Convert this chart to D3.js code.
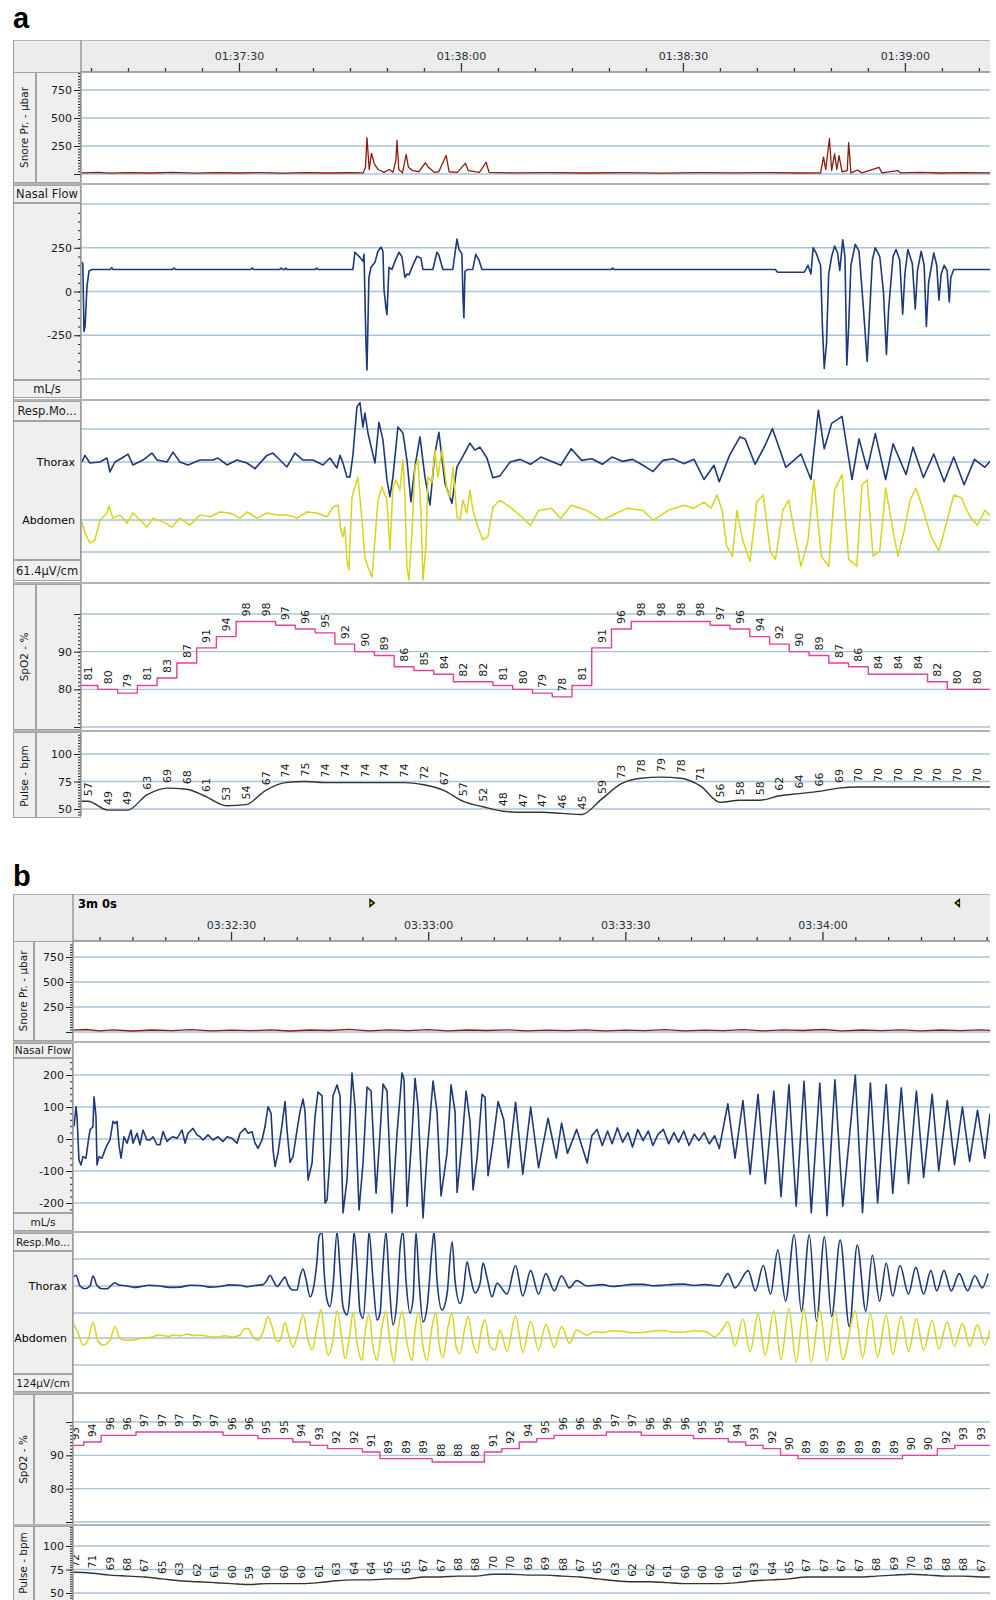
<!DOCTYPE html>
<html>
<head>
<meta charset="utf-8">
<script src="https://cdn.jsdelivr.net/npm/d3@7"></script>
<style>
  body { margin: 0; background: #fff; }
</style>
</head>
<body>
<div id="chart"></div>
<script>
const width = 996;
const height = 1600;

// ---------- panel a : times in seconds after 01:37:00 ----------
const aSnore = [[8.7,10],[11,14],[12.5,8],[15,12],[18,9],[21,15],[24,8],[27,12],[30,9],[33,13],[36,8],[39,12],[42,9],[45,11],[46.8,10],[47.1,60],[47.3,325],[47.6,40],[47.9,185],[48.3,90],[48.8,40],[49.6,15],[50.3,40],[50.8,15],[51.2,120],[51.35,300],[51.6,40],[52.1,10],[52.6,175],[52.9,60],[53.5,30],[54.3,20],[55.2,100],[55.6,60],[56.4,15],[57.0,20],[58.0,165],[58.4,20],[59.5,15],[60.6,95],[61.0,30],[62.5,15],[63.4,105],[63.8,15],[67,10],[72,13],[77,9],[82,12],[87,8],[92,12],[97,10],[102,13],[106,9],[108.6,10],[109.0,150],[109.3,40],[109.8,315],[110.1,30],[110.5,180],[110.8,40],[111.1,165],[111.5,20],[112.2,30],[112.4,280],[112.7,10],[113.6,35],[114.2,10],[116.5,60],[116.9,10],[119.05,30],[119.4,10],[122,14],[125,9],[128,13],[131.5,10]];

const aFlow = [[8.7,168],[8.9,160],[9.05,-228],[9.2,-200],[9.46,30],[9.73,117],[10.13,126],[12.6,126],[12.8,136],[13.0,126],[21.0,126],[21.2,134],[21.4,126],[31.6,126],[31.8,134],[32.0,126],[35.5,126],[35.7,134],[35.9,126],[36.2,126],[36.35,134],[36.5,126],[40.3,126],[40.5,134],[40.7,126],[45.4,126],[45.67,224],[46.35,195],[46.75,172],[46.9,212],[47.16,-293],[47.3,-449],[47.43,-190],[47.56,80],[47.84,138],[48.38,167],[48.78,230],[49.19,253],[49.46,230],[49.6,10],[49.86,-92],[50.0,-132],[50.27,138],[50.67,126],[51.08,172],[51.62,224],[52.02,200],[52.43,80],[52.7,100],[52.97,95],[53.38,138],[54.05,201],[54.59,190],[54.86,126],[56.2,126],[56.75,224],[57.0,210],[57.56,126],[58.9,126],[59.46,300],[59.73,241],[60.13,215],[60.27,-35],[60.4,-150],[60.54,115],[60.94,126],[61.6,126],[62.0,212],[62.43,180],[62.84,126],[80.3,126],[80.5,134],[80.7,126],[102.5,126],[102.8,110],[106.4,110],[106.9,150],[107.3,100],[107.6,250],[108.0,220],[108.6,150],[108.85,-200],[109.1,-440],[109.4,-300],[109.7,100],[110.1,200],[110.5,260],[110.9,220],[111.2,120],[111.6,295],[111.9,200],[112.15,-420],[112.4,-200],[112.7,150],[113.3,270],[113.8,230],[114.4,-100],[114.9,-400],[115.2,-150],[115.6,180],[116.0,250],[116.6,200],[117.1,0],[117.5,-360],[117.8,-100],[118.4,200],[118.8,240],[119.3,180],[119.7,-130],[120.0,100],[120.4,240],[121.0,160],[121.4,-100],[121.7,120],[122.2,230],[122.6,150],[122.9,-200],[123.2,50],[123.9,220],[124.3,150],[124.6,-50],[124.9,100],[125.3,150],[125.7,120],[126.0,-60],[126.2,80],[126.6,126],[131.5,126]];

const aThorax = [[8.78,0],[9.19,0.2],[9.86,-0.03],[11.21,0],[12.16,0.12],[12.56,-0.3],[13.24,0],[14.19,0.12],[15.0,0.24],[15.67,-0.09],[17.02,0.06],[18.24,0.27],[18.92,0.06],[20.27,0],[21.08,0.3],[22.02,0],[23.11,-0.09],[24.73,0.06],[26.48,0.06],[27.16,0.12],[28.38,-0.09],[29.73,0.06],[31.08,-0.03],[32.16,-0.2],[33.78,0.2],[34.59,0.27],[35.54,0.06],[36.48,-0.15],[37.56,0.27],[38.65,0.06],[40.0,0.06],[41.35,-0.09],[42.29,0.12],[43.24,-0.18],[43.65,0.2],[44.05,-0.03],[44.59,-0.45],[45.0,-0.45],[45.4,0.2],[45.94,1.67],[46.35,1.8],[46.75,1.06],[47.02,1.48],[47.43,0.88],[47.97,0.36],[48.38,-0.03],[48.92,1.2],[49.46,0.67],[50.0,-0.55],[50.4,-1.05],[50.81,-0.45],[51.48,1.06],[52.16,0.88],[52.7,0.06],[53.24,-1.2],[53.78,-0.15],[54.46,0.76],[55.13,-0.45],[55.81,-1.3],[56.48,0.27],[57.02,0.9],[57.84,-0.64],[58.78,-1.25],[59.46,-0.15],[60.13,0.12],[61.21,0.57],[61.89,0.36],[62.56,0.45],[63.51,0.12],[64.32,-0.48],[65.27,-0.42],[66.65,0],[68.0,0.08],[69.4,-0.07],[70.8,0.15],[72.2,0.02],[73.5,-0.1],[74.9,0.4],[76.3,0.05],[77.7,0.1],[79.1,-0.07],[80.4,0.15],[81.8,0.02],[83.2,0.08],[84.6,-0.1],[85.96,-0.29],[87.3,0.05],[88.7,0.1],[90.1,-0.05],[91.5,0.08],[92.85,-0.53],[94.2,-0.1],[94.9,-0.6],[96.3,0.2],[97.7,0.76],[98.4,0.7],[99.75,-0.07],[101.1,0.5],[102.1,1.01],[103.2,0.3],[103.9,-0.16],[105.95,0.24],[107.3,-0.53],[108.3,1.57],[109.1,0.4],[110.1,1.17],[111.5,1.38],[112.85,-0.53],[113.8,0.7],[114.9,-0.22],[116.0,0.86],[117.4,-0.53],[118.4,0.55],[120.15,-0.38],[121.1,0.45],[122.5,-0.47],[123.9,0.24],[125.3,-0.6],[126.6,0.15],[128.0,-0.69],[129.4,0.08],[130.8,-0.16],[131.5,0.02]];

const aAbdomen = [[8.78,-0.06],[9.19,-0.4],[9.86,-0.72],[10.54,-0.62],[11.21,0],[12.16,0.22],[12.43,0.44],[12.97,0.06],[13.92,0.16],[14.86,-0.1],[15.67,0.22],[16.62,0],[17.57,-0.22],[18.38,0.06],[19.73,-0.06],[20.94,-0.22],[22.02,0.06],[23.38,-0.16],[24.73,0.16],[26.08,0.1],[27.43,0.25],[28.78,0.22],[30.13,0.06],[31.08,0.25],[32.43,0.06],[33.78,0.22],[35.13,0.16],[36.48,0.16],[37.84,0.06],[39.19,0.25],[40.54,0.22],[41.89,0.1],[42.7,0.4],[43.38,0.47],[43.78,-0.31],[44.05,-0.53],[44.32,-0.22],[44.59,-1.25],[44.86,-1.56],[45.27,0.72],[45.67,1.03],[46.08,1.34],[46.62,0],[47.02,-1.16],[47.43,-1.47],[47.97,-1.78],[48.38,-0.62],[48.78,0.62],[49.32,1.03],[50.0,0.62],[50.4,-0.94],[50.81,1.03],[51.21,1.25],[51.75,0.94],[52.16,1.88],[52.43,0.72],[52.7,-1.47],[52.97,-1.88],[53.38,-0.4],[53.78,1.66],[54.19,1.88],[54.59,0.31],[54.86,-1.88],[55.27,-0.84],[55.54,1.34],[56.08,1.16],[56.48,2.19],[56.89,1.34],[57.43,2.19],[58.11,0.94],[58.51,0.72],[58.92,1.66],[59.46,0.1],[59.86,0],[60.27,0.62],[60.81,0.22],[61.21,0.94],[61.62,0.31],[62.29,-0.22],[62.97,-0.62],[63.64,-0.53],[64.32,0.4],[65.27,0.62],[66.65,0.4],[68.0,0.14],[69.4,-0.17],[70.5,0.3],[72.2,0.37],[73.5,0.05],[74.9,0.46],[77.0,0.3],[79.1,-0.01],[80.4,0.14],[82.5,0.37],[84.6,0.3],[85.96,-0.01],[88.0,0.3],[90.1,0.46],[91.5,0.37],[92.85,0.56],[93.8,0.37],[94.6,0.78],[95.3,0.3],[95.9,-0.81],[96.7,-1.13],[97.3,0.3],[98.1,-0.65],[99.06,-1.29],[100.0,0.56],[100.85,0.78],[101.8,-0.97],[102.5,-1.23],[103.5,0.3],[104.3,0.62],[105.3,-0.65],[105.95,-1.45],[106.9,-0.65],[107.7,1.26],[108.7,-1.13],[109.7,-1.45],[110.5,0.94],[111.5,1.42],[112.4,-1.23],[113.5,-1.45],[114.2,1.1],[114.9,1.26],[115.7,-1.13],[116.6,-0.97],[117.4,1.0],[118.4,-0.33],[119.05,-1.13],[119.9,-0.33],[120.7,0.62],[121.5,1.0],[122.5,0.3],[123.5,-0.49],[124.6,-0.97],[125.7,-0.01],[126.6,0.78],[127.6,0.7],[128.7,0.14],[129.8,-0.17],[130.8,0.3],[131.5,0.14]];

// oximeter readings, one every sample interval
const aSpo2 = [81,80,79,81,83,87,91,94,98,98,97,96,95,92,90,89,86,85,84,82,82,81,80,79,78,81,91,96,98,98,98,98,97,96,94,92,90,89,87,86,84,84,84,82,80,80];
const aPulse = [57,49,49,63,69,68,61,53,54,67,74,75,74,74,74,74,74,72,67,57,52,48,47,47,46,45,59,73,78,79,78,71,56,58,58,62,64,66,69,70,70,70,70,70,70,70];
const aSampleStart = 9.59;
const aSampleStep = 2.67;
const aTimeTicks = [30, 60, 90, 120];

// ---------- panel b : times in seconds after 03:32:00 ----------
const bSnore = [[5.95,18],[8,25],[10,12],[12,22],[15,10],[18,20],[21,14],[24,24],[27,11],[30,18],[33,13],[36,22],[39,10],[42,20],[45,15],[48,26],[51,12],[54,22],[57,14],[60,24],[63,12],[66,20],[69,15],[72,22],[75,11],[78,18],[81,14],[84,21],[87,12],[90,18],[93,13],[96,23],[99,12],[102,19],[105,14],[108,24],[111,12],[114,22],[117,15],[120,25],[123,12],[126,20],[129,14],[132,22],[135,11],[138,20],[141,14],[144,22],[145.5,16]];

const bFlow = [[6.1,39],[6.41,101],[6.56,70],[6.86,-66],[7.17,-81],[7.47,-55],[7.93,-60],[8.23,-13],[8.54,28],[8.99,39],[9.15,132],[9.45,70],[9.6,-81],[9.91,-55],[10.36,-60],[10.82,-34],[11.13,-19],[11.58,-3],[12.04,55],[12.34,49],[12.65,55],[12.95,-19],[13.26,-60],[13.71,7],[14.17,-13],[14.78,28],[15.08,-13],[15.69,18],[16.15,-18],[16.6,28],[17.21,-3],[17.67,-3],[18.13,7],[18.74,-18],[19.19,-18],[19.65,23],[20.26,-8],[20.71,2],[21.17,7],[21.78,2],[22.54,28],[23.0,-13],[23.45,18],[24.21,33],[24.82,13],[25.28,7],[25.74,-3],[26.5,13],[27.26,-3],[28.02,7],[28.78,-8],[29.39,7],[30.15,2],[30.91,-13],[31.37,18],[32.13,33],[32.59,18],[33.19,23],[33.65,-13],[34.11,-29],[34.72,-3],[35.17,39],[35.63,101],[36.09,80],[36.39,-34],[36.7,-86],[37.15,-44],[37.76,44],[38.22,117],[38.52,28],[38.98,-73],[39.43,-55],[40.04,28],[40.5,85],[40.96,125],[41.26,85],[41.72,-128],[42.33,-75],[42.78,70],[43.24,147],[43.85,135],[44.31,-200],[44.61,-190],[45.07,-55],[45.52,135],[46.13,169],[46.59,135],[47.04,-231],[47.65,-128],[48.41,206],[48.87,101],[49.48,-222],[50.09,-75],[50.7,162],[51.31,150],[52.07,-169],[52.68,18],[53.13,172],[53.74,150],[54.5,-231],[55.26,18],[56.02,206],[56.33,185],[56.79,-210],[57.55,18],[58.0,190],[58.46,101],[59.22,-247],[59.83,-44],[60.74,181],[61.35,85],[61.96,-178],[62.87,-44],[63.48,169],[64.09,85],[64.4,-167],[65.16,-8],[65.77,150],[66.37,55],[66.83,-159],[67.44,-60],[68.2,140],[68.66,130],[69.11,-115],[69.87,-8],[70.64,117],[71.5,60],[72.2,-90],[73.3,115],[74.4,-110],[75.6,100],[76.8,-90],[78.25,65],[79.5,-60],[80.3,50],[81.2,-45],[82.6,30],[84.2,-75],[84.9,10],[85.7,30],[86.5,-20],[87.3,25],[88.0,-15],[88.8,35],[89.6,-10],[90.4,20],[91.1,-25],[91.9,30],[92.7,-5],[93.5,25],[94.2,-20],[95.0,15],[95.8,30],[96.6,-15],[97.4,20],[98.1,-10],[98.9,25],[99.7,-20],[100.5,15],[101.2,-5],[102.0,20],[102.8,-15],[103.6,10],[104.3,-30],[105.6,110],[106.7,-60],[107.9,120],[109.0,-110],[110.2,140],[111.3,-140],[112.6,150],[113.7,-180],[114.9,170],[116.0,-210],[117.2,180],[118.3,-230],[119.6,175],[120.7,-240],[121.9,185],[123.1,-210],[125.0,200],[126.1,-230],[127.3,175],[128.4,-200],[129.7,170],[130.7,-170],[132.0,160],[133.1,-140],[134.3,150],[135.4,-120],[136.7,140],[137.7,-100],[139.0,120],[140.1,-80],[141.3,100],[142.4,-70],[143.6,90],[144.7,-60],[145.5,80]];

const bThorax = [[6.1,0.34],[6.41,0.4],[7.02,0],[7.78,-0.1],[8.54,0],[8.99,0.37],[9.6,0.02],[10.36,-0.1],[11.13,-0.1],[11.89,0.05],[12.34,0.12],[12.8,0.05],[14.17,0],[15.2,-0.05],[16.15,-0.03],[17.5,0.03],[19.19,0],[20.6,-0.05],[22.24,-0.04],[23.8,0.03],[25.28,0.02],[26.8,-0.04],[28.32,-0.02],[29.8,0.04],[31.37,0.03],[32.5,-0.03],[33.65,0.02],[34.87,0.05],[35.48,0.22],[35.93,0.4],[36.39,0.22],[37.0,-0.02],[37.76,0.2],[38.22,0.33],[38.67,0.05],[39.43,-0.15],[40.04,-0.15],[40.5,0.35],[40.96,0.63],[41.41,0.25],[42.02,-0.4],[42.48,-0.15],[43.09,0.96],[43.39,1.83],[43.85,2.0],[44.15,0.6],[44.61,-0.52],[45.07,-0.77],[45.52,0],[46.13,2.0],[46.59,0.6],[47.04,-0.77],[47.65,-1.07],[48.41,0.8],[48.72,2.0],[49.18,0.8],[49.63,-0.95],[50.09,-1.19],[50.7,0.8],[51.0,2.0],[51.61,0.2],[52.22,-1.26],[52.68,-1.0],[53.13,0.8],[53.59,2.0],[54.05,0.2],[54.66,-1.44],[55.26,-0.5],[55.72,1.4],[56.18,2.0],[56.63,0.2],[57.24,-1.0],[57.7,-0.5],[58.15,2.0],[58.61,0.2],[59.22,-1.33],[59.83,-0.8],[60.59,1.4],[60.9,2.0],[61.35,0.2],[62.11,-0.89],[62.87,-0.3],[63.64,1.64],[64.09,0.2],[64.85,-0.65],[65.31,-0.3],[65.92,0.9],[66.37,0.4],[67.13,-0.26],[67.9,0.1],[68.35,0.85],[68.96,0.3],[69.72,-0.4],[70.48,0.1],[72.0,-0.3],[73.3,0.76],[74.4,-0.37],[75.6,0.57],[76.8,-0.3],[77.9,0.46],[79.2,-0.18],[80.3,0.38],[81.5,-0.07],[82.6,0.2],[84.2,0],[86.5,0.05],[88.0,-0.02],[89.6,0.02],[91.1,0.06],[92.7,0.06],[94.2,0.01],[95.8,0.03],[97.4,0.06],[98.9,0.07],[100.5,0.02],[102.0,0.05],[104.3,0],[105.6,0.46],[106.7,-0.07],[108.7,0.57],[109.8,-0.18],[111.0,0.76],[112.1,-0.3],[113.2,1.33],[114.4,-0.56],[115.7,1.9],[116.8,-0.94],[118.0,1.9],[119.1,-1.31],[120.3,1.82],[121.4,-1.13],[122.7,1.71],[124.1,-1.51],[125.3,1.52],[126.6,-0.94],[127.6,1.14],[128.7,-0.56],[129.7,0.84],[130.7,-0.37],[131.8,0.76],[133.1,-0.3],[134.2,0.69],[135.4,-0.3],[136.5,0.57],[137.4,-0.18],[138.5,0.57],[139.6,-0.18],[140.8,0.46],[142.1,-0.18],[143.2,0.38],[144.3,-0.07],[145.2,0.46]];

const bAbdomen = [[6.1,0.49],[6.71,0.19],[7.47,-0.26],[8.23,-0.08],[8.99,0.57],[9.76,-0.13],[10.52,-0.26],[11.58,-0.08],[12.34,0.43],[13.1,-0.02],[13.86,-0.08],[15.08,-0.08],[16.15,-0.02],[17.67,0.02],[19.19,0.11],[20.5,0.06],[21.17,0.11],[22.3,0.08],[23.3,0.15],[24.3,0.09],[25.28,0.11],[26.5,0.06],[27.87,0.04],[29.0,0.08],[30.3,0.04],[31.37,0.11],[31.82,0.3],[32.59,0.36],[33.35,0.04],[34.11,-0.08],[34.87,0.23],[35.63,0.8],[36.24,0.42],[37.0,-0.13],[37.46,-0.08],[38.22,0.57],[38.67,0.19],[39.43,-0.33],[40.2,0.19],[40.96,0.87],[41.72,-0.08],[42.33,-0.45],[43.09,0.42],[43.7,1.06],[44.31,-0.08],[44.76,-0.64],[45.52,-0.08],[46.13,1.0],[46.89,-0.08],[47.35,-0.77],[48.11,0.19],[48.57,0.94],[49.18,-0.2],[49.94,-0.83],[50.39,0.19],[51.0,0.87],[51.61,-0.33],[52.22,-0.83],[52.98,0.42],[53.59,0.99],[54.2,-0.2],[54.81,-0.89],[55.42,0.3],[56.02,0.99],[56.79,-0.2],[57.55,-0.83],[58.0,0.3],[58.61,0.94],[59.22,-0.33],[59.83,-0.83],[60.59,0.42],[61.2,0.94],[61.65,-0.2],[62.27,-0.71],[63.03,0.42],[63.64,0.94],[64.25,-0.33],[64.85,-0.58],[65.61,0.42],[66.07,0.8],[66.83,-0.2],[67.44,-0.55],[68.2,0.42],[68.66,0.68],[69.42,-0.33],[70.18,-0.45],[70.94,0.3],[72.0,-0.5],[73.3,0.82],[74.4,-0.53],[75.6,0.62],[76.8,-0.45],[77.9,0.5],[79.2,-0.34],[80.3,0.43],[81.5,-0.2],[82.6,0.3],[84.2,0.1],[85.3,0.24],[86.5,0.2],[88.0,0.27],[89.6,0.25],[91.1,0.19],[92.7,0.2],[94.2,0.26],[95.8,0.28],[97.4,0.21],[98.9,0.22],[100.5,0.27],[102.0,0.25],[103.6,0.05],[104.7,0.3],[105.6,0.6],[106.7,-0.3],[107.9,0.7],[109.0,-0.5],[110.2,0.9],[111.3,-0.65],[112.6,1.0],[113.7,-0.8],[114.9,1.1],[116.0,-0.9],[117.2,1.1],[118.3,-0.9],[119.6,1.05],[120.7,-0.85],[121.9,1.0],[123.1,-0.8],[125.0,1.0],[126.1,-0.75],[127.3,0.9],[128.4,-0.7],[129.7,0.85],[130.7,-0.6],[132.0,0.8],[133.1,-0.5],[134.3,0.7],[135.4,-0.45],[136.7,0.65],[137.7,-0.4],[139.0,0.6],[140.1,-0.3],[141.3,0.55],[142.4,-0.3],[143.6,0.5],[144.7,-0.25],[145.5,0.3]];

const bSpo2 = [93,94,96,96,97,97,97,97,97,96,96,95,95,94,93,92,92,91,89,89,89,88,88,88,91,92,94,95,96,96,96,97,97,96,96,96,95,95,94,93,92,90,89,89,89,89,89,89,90,90,92,93,93];
const bPulse = [72,71,69,68,67,65,63,62,61,60,59,60,60,60,61,63,64,64,65,65,67,67,68,68,70,70,69,69,68,67,65,63,62,62,61,60,60,60,61,63,64,65,67,67,67,67,68,69,70,69,68,68,67];
const bSampleStart = 6.26;
const bSampleStep = 2.651;
const bTimeTicks = [30, 60, 90, 120];
const bMarkers = [51.5, 140.5];

// ---------- styling ----------
const FONT = "'DejaVu Sans', Verdana, sans-serif";
const RIGHT = 990;
const gridColor = "#a9c3d8";
const boxFill = "#efefef";
const boxStroke = "#a3a3a3";
const headFill = "#ececec";
const sepColor = "#b3b3b3";
const snoreColor = "#8c1c0e";
const flowColor = "#1d3979";
const abdColor = "#d6d41c";
const spo2Color = "#e0409e";
const pulseColor = "#333";

const svg = d3.select("#chart").append("svg")
    .attr("width", width)
    .attr("height", height)
    .style("font-family", FONT);

function clock(base) {
    return t => {
        const s = Math.round(base + t);
        const p = n => String(n).padStart(2, "0");
        return `${p(Math.floor(s / 3600))}:${p(Math.floor(s / 60) % 60)}:${p(s % 60)}`;
    };
}

let clipCount = 0;
function section(L, y0, y1) {
    const id = "clip" + (clipCount++);
    svg.append("clipPath").attr("id", id).append("rect")
        .attr("x", L.left).attr("y", y0).attr("width", RIGHT - L.left).attr("height", y1 - y0);
    return svg.append("g").attr("clip-path", `url(#${id})`);
}

function box(x0, y0, x1, y1, label, size) {
    svg.append("rect")
        .attr("x", x0 + 0.5).attr("y", y0 + 0.5)
        .attr("width", x1 - x0 - 1).attr("height", y1 - y0 - 1)
        .attr("fill", boxFill).attr("stroke", boxStroke);
    if (label) {
        svg.append("text")
            .attr("x", (x0 + x1) / 2).attr("y", (y0 + y1) / 2)
            .attr("dy", "0.36em").attr("text-anchor", "middle")
            .style("font-size", size || "11px").attr("fill", "#1a1a1a")
            .text(label);
    }
}

function vLabel(cx, cy, label) {
    svg.append("text")
        .attr("transform", `translate(${cx},${cy}) rotate(-90)`)
        .attr("dy", "0.36em").attr("text-anchor", "middle")
        .style("font-size", "10.5px").attr("fill", "#1a1a1a")
        .text(label);
}

function grid(g, L, ys) {
    g.selectAll(null).data(ys).join("line")
        .attr("x1", L.left).attr("x2", RIGHT)
        .attr("y1", d => d).attr("y2", d => d)
        .attr("stroke", gridColor).attr("stroke-width", 1.3);
}

function yAxis(L, scale, major, minor, fmt, y0, y1) {
    const inside = v => scale(v) > y0 + 1 && scale(v) < y1 - 1;
    const ax = svg.append("g").attr("transform", `translate(${L.left},0)`);
    ax.append("g").call(d3.axisLeft(scale).tickValues(minor.filter(inside)).tickSize(3).tickFormat(""));
    ax.append("g").call(d3.axisLeft(scale).tickValues(major.filter(inside)).tickSize(7).tickPadding(2).tickFormat(fmt));
    ax.selectAll(".domain").remove();
    ax.selectAll("line").attr("stroke", "#222");
    ax.selectAll("text").style("font-size", "11px").style("font-family", FONT).attr("fill", "#1a1a1a");
}

function trace(g, data, x, y, color, w, curve) {
    g.append("path").datum(data)
        .attr("fill", "none").attr("stroke", color).attr("stroke-width", w)
        .attr("stroke-linejoin", "round")
        .attr("d", d3.line().x(d => x(d[0])).y(d => y(d[1])).curve(curve || d3.curveLinear));
}

function readings(g, vals, t0, dt, x, y, color, curve, fontSize) {
    const pts = vals.map((v, i) => [t0 + i * dt, v]);
    const dom = x.domain();
    trace(g, [[dom[0], vals[0]], ...pts, [dom[1], vals[vals.length - 1]]], x, y, color, 1.4, curve);
    g.selectAll(null).data(pts).join("text")
        .attr("transform", d => `translate(${x(d[0])},${y(d[1]) - 5}) rotate(-90)`)
        .attr("dy", "0.36em")
        .style("font-size", fontSize).attr("fill", "#1a1a1a")
        .text(d => d[1]);
}

function drawPanel(L, D) {
    const x = d3.scaleLinear().domain(L.domain).range([L.left, RIGHT]);

    svg.append("text").attr("x", 13).attr("y", L.letterY).text(L.letter)
        .style("font-family", "'Liberation Sans', Arial, sans-serif")
        .style("font-size", "29px").style("font-weight", "bold");

    // header with time scale
    svg.append("rect").attr("x", 13).attr("y", L.top)
        .attr("width", RIGHT - 13).attr("height", L.head - L.top).attr("fill", headFill);
    const minors = d3.range(10, L.domain[1], 5).filter(t => t % 30 !== 0);
    const tAxis = svg.append("g").attr("transform", `translate(0,${L.head})`);
    tAxis.append("g").call(d3.axisTop(x).tickValues(minors).tickSize(4).tickFormat(""));
    tAxis.append("g").call(d3.axisTop(x).tickValues(D.timeTicks).tickSize(9)
        .tickPadding(L.labelPad).tickFormat(clock(L.base)));
    tAxis.selectAll(".domain").remove();
    tAxis.selectAll("line").attr("stroke", "#333").attr("stroke-width", 1.3);
    tAxis.selectAll("text").style("font-size", "11px").style("font-family", FONT).attr("fill", "#26313d");

    if (L.window) {
        svg.append("text").attr("x", L.left + 5).attr("y", L.top + 14)
            .style("font-size", "11.5px").style("font-weight", "bold").text(L.window);
        svg.selectAll(null).data(D.markers).join("path")
            .attr("transform", d => `translate(${x(d)},${L.top + 9})`)
            .attr("d", (d, i) => i === 0 ? "M-3,-5L3,0L-3,5Z" : "M3,-5L-3,0L3,5Z")
            .attr("fill", "#111");
        svg.selectAll(null).data(D.markers).join("circle")
            .attr("cx", (d, i) => x(d) + (i === 0 ? -1 : 1)).attr("cy", L.top + 9)
            .attr("r", 1.2).attr("fill", "#e8e000");
    }

    // ---- snore ----
    const sn = L.snore;
    const ySn = d3.scaleLinear().domain([0, 750]).range(sn.range);
    box(13, sn.y0, L.split, sn.y1);
    box(L.split, sn.y0, L.left, sn.y1);
    vLabel((13 + L.split) / 2, (sn.y0 + sn.y1) / 2, "Snore Pr. - µbar");
    const gSn = section(L, sn.y0, sn.y1);
    grid(gSn, L, [0, 250, 500, 750].map(ySn));
    yAxis(L, ySn, [0, 250, 500, 750], d3.range(0, 901, 25), d => d === 0 ? "" : d, sn.y0, sn.y1);
    trace(gSn, D.snore, x, ySn, snoreColor, 1.3);

    // ---- nasal flow ----
    const fl = L.flow;
    const yFl = d3.scaleLinear().domain(fl.domain).range(fl.range);
    box(13, fl.y0, L.left, fl.label, "Nasal Flow", L.boxFont);
    box(13, fl.label, L.left, fl.unit);
    box(13, fl.unit, L.left, fl.y1 - 1, "mL/s", L.boxFont);
    const gFl = section(L, fl.y0, fl.y1);
    grid(gFl, L, fl.grid.map(yFl));
    yAxis(L, yFl, fl.major, fl.minor, d => d, fl.label, fl.unit);
    trace(gFl, D.flow, x, yFl, flowColor, 1.6);

    // ---- respiratory effort ----
    const rs = L.resp;
    const yTh = d3.scaleLinear().domain([-1, 1]).range(rs.thorax);
    const yAb = d3.scaleLinear().domain([-1, 1]).range(rs.abdomen);
    box(13, rs.y0, L.left, rs.label, "Resp.Mo...", L.boxFont);
    box(13, rs.label, L.left, rs.unit);
    box(13, rs.unit, L.left, rs.y1 - 1, rs.unitText, L.boxFont);
    svg.append("text").attr("x", L.left - 6).attr("y", yTh(0)).attr("dy", "0.36em")
        .attr("text-anchor", "end").style("font-size", "11px").text("Thorax");
    svg.append("text").attr("x", L.left - 6).attr("y", yAb(0)).attr("dy", "0.36em")
        .attr("text-anchor", "end").style("font-size", "11px").text("Abdomen");
    const gRs = section(L, rs.y0, rs.y1);
    grid(gRs, L, [...rs.thGrid.map(yTh), ...rs.abGrid.map(yAb)]);
    trace(gRs, D.thorax, x, yTh, flowColor, 1.6, rs.curve);
    trace(gRs, D.abdomen, x, yAb, abdColor, 1.5, rs.curve);

    // ---- SpO2 ----
    const sp = L.spo2;
    const ySp = d3.scaleLinear().domain([70, 100]).range(sp.range);
    box(13, sp.y0, L.split, sp.y1);
    box(L.split, sp.y0, L.left, sp.y1);
    vLabel((13 + L.split) / 2, (sp.y0 + sp.y1) / 2, "SpO2 - %");
    const gSp = section(L, sp.y0, sp.y1);
    grid(gSp, L, [70, 80, 90, 100].map(ySp));
    yAxis(L, ySp, [70, 80, 90, 100], d3.range(70, 101, 1), d => (d === 80 || d === 90) ? d : "", sp.y0, sp.y1 + 2);
    readings(gSp, D.spo2, D.start, D.step, x, ySp, spo2Color, d3.curveStep, L.valueFont);

    // ---- pulse ----
    const pu = L.pulse;
    const yPu = d3.scaleLinear().domain([50, 100]).range(pu.range);
    box(13, pu.y0, L.split, pu.y1 + 2);
    box(L.split, pu.y0, L.left, pu.y1 + 2);
    vLabel((13 + L.split) / 2, pu.labelY, "Pulse - bpm");
    const gPu = section(L, pu.y0, pu.y1);
    grid(gPu, L, [50, 75, 100].map(yPu));
    yAxis(L, yPu, [50, 75, 100], d3.range(30, 126, 2.5), d => d, pu.y0, pu.y1);
    readings(gPu, D.pulse, D.start, D.step, x, yPu, pulseColor, d3.curveMonotoneX, L.valueFont);

    // frame and section separators
    svg.append("line").attr("x1", 13).attr("x2", RIGHT).attr("y1", L.top + 0.5).attr("y2", L.top + 0.5)
        .attr("stroke", "#b8b8b8");
    svg.append("line").attr("x1", L.left).attr("x2", RIGHT).attr("y1", L.head).attr("y2", L.head)
        .attr("stroke", "#8a8a8a").attr("stroke-width", 1.3);
    svg.append("line").attr("x1", 13.5).attr("x2", 13.5).attr("y1", L.top).attr("y2", L.bottom)
        .attr("stroke", "#9a9a9a");
    svg.append("line").attr("x1", L.left).attr("x2", L.left).attr("y1", L.top).attr("y2", L.bottom)
        .attr("stroke", "#9a9a9a").attr("stroke-width", 1.5);
    svg.selectAll(null).data(L.seps).join("line")
        .attr("x1", 13).attr("x2", RIGHT).attr("y1", d => d).attr("y2", d => d)
        .attr("stroke", sepColor).attr("stroke-width", 2.2);
}

drawPanel({
    letter: "a", letterY: 28, top: 40, head: 72, bottom: 816, left: 81, split: 36,
    domain: [8.65, 131.5], base: 5820, labelPad: 3, valueFont: "11px", boxFont: "11.5px",
    snore: { y0: 72, y1: 183, range: [174, 90] },
    flow: { y0: 185, y1: 399, label: 203, unit: 380, domain: [-500, 500], range: [379, 204],
            grid: [-500, -250, 0, 250, 500], major: [-250, 0, 250], minor: d3.range(-450, 451, 50) },
    resp: { y0: 401, y1: 582, label: 421, unit: 560, thorax: [495, 429], abdomen: [552, 488],
            thGrid: [1, 0], abGrid: [0, -1], unitText: "61.4µV/cm", curve: d3.curveLinear },
    spo2: { y0: 584, y1: 730, range: [727, 614] },
    pulse: { y0: 732, y1: 816, range: [809, 754], labelY: 776 },
    seps: [184, 400, 583, 731]
}, {
    snore: aSnore, flow: aFlow, thorax: aThorax, abdomen: aAbdomen,
    spo2: aSpo2, pulse: aPulse, start: aSampleStart, step: aSampleStep, timeTicks: aTimeTicks
});

drawPanel({
    letter: "b", letterY: 886, top: 894, head: 941, bottom: 1600, left: 73, split: 34,
    domain: [5.95, 145.5], base: 12720, labelPad: 3, valueFont: "10.5px", boxFont: "10.5px",
    window: "3m 0s",
    snore: { y0: 941, y1: 1041, range: [1032, 957] },
    flow: { y0: 1043, y1: 1232, label: 1058, unit: 1213, domain: [-200, 200], range: [1203, 1075],
            grid: [-200, -100, 0, 100, 200], major: [-200, -100, 0, 100, 200], minor: d3.range(-220, 241, 20) },
    resp: { y0: 1233, y1: 1393, label: 1251, unit: 1374, thorax: [1313, 1259], abdomen: [1365, 1311],
            thGrid: [1, 0, -1], abGrid: [0, -1], unitText: "124µV/cm", curve: d3.curveMonotoneX },
    spo2: { y0: 1394, y1: 1525, range: [1522, 1422] },
    pulse: { y0: 1526, y1: 1600, range: [1593, 1546], labelY: 1563 },
    seps: [1042, 1232, 1393, 1525]
}, {
    snore: bSnore, flow: bFlow, thorax: bThorax, abdomen: bAbdomen,
    spo2: bSpo2, pulse: bPulse, start: bSampleStart, step: bSampleStep,
    timeTicks: bTimeTicks, markers: bMarkers
});
</script>
</body>
</html>
